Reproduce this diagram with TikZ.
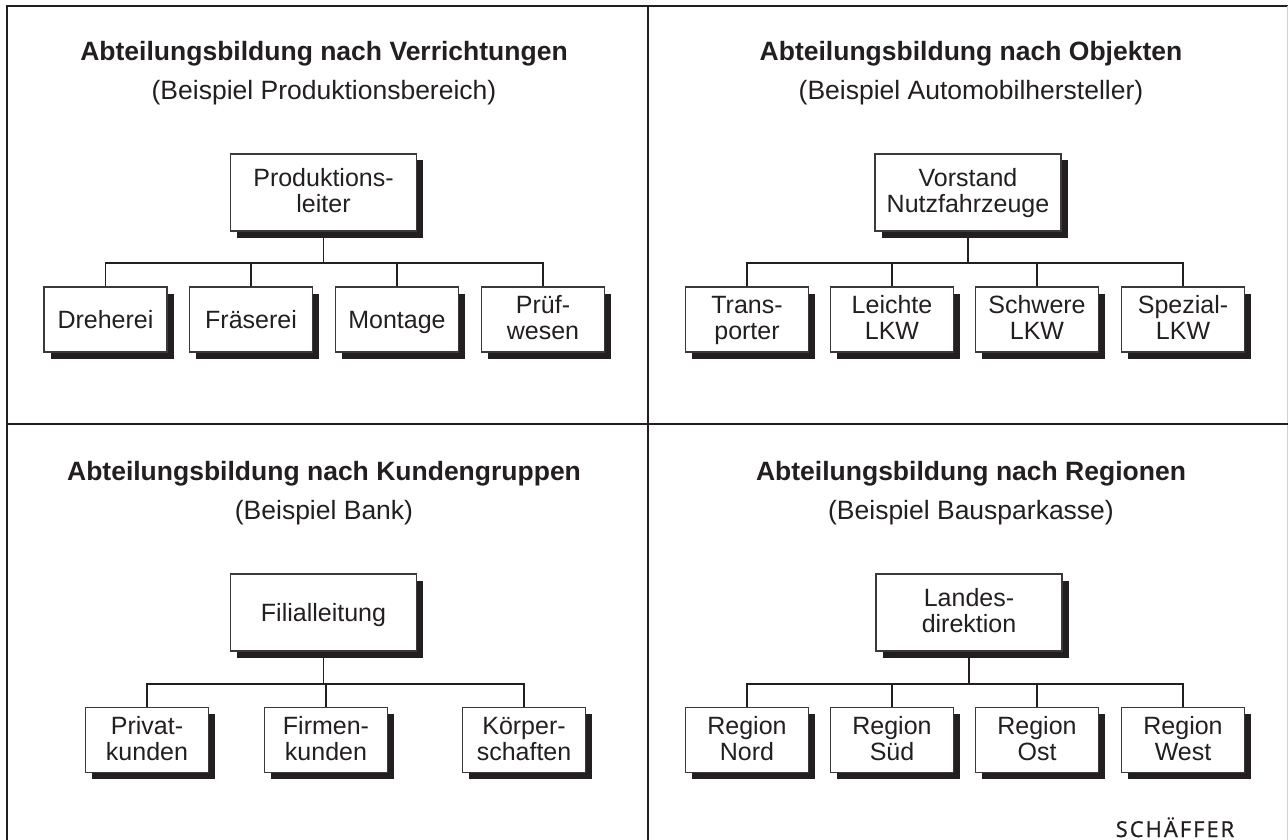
\documentclass[tikz,border=0pt]{standalone}
\usepackage{fontspec}
\setmainfont{Liberation Sans}
\newfontfamily\logofont[LetterSpace=9,FakeBold=0.8]{Open Sans}
\usetikzlibrary{shadows}

\definecolor{ink}{HTML}{231F20}
\definecolor{rim}{HTML}{3A3A3A}

% line strut for the two-line box labels
\newcommand{\ls}{\rule[-6pt]{0pt}{26pt}}

\begin{document}
\begin{tikzpicture}[x=1pt,y=-1pt,
  frame/.style={draw=ink, line width=2pt},
  wire/.style={draw=ink, line width=1.2pt},
  title/.style={font=\fontsize{26.5}{30}\selectfont\bfseries, text=ink, inner sep=0pt, anchor=base},
  subtitle/.style={font=\fontsize{26.5}{30}\selectfont, text=ink, inner sep=0pt, anchor=base},
  unit/.style={draw=rim, line width=1.2pt, fill=white, text=ink, align=center,
    font=\fontsize{25}{26}\selectfont, inner sep=0pt,
    minimum width=123pt, minimum height=65pt,
    drop shadow={shadow xshift=6.5pt, shadow yshift=-6.5pt, opacity=1, fill=ink}},
  head/.style={unit, minimum width=186pt, minimum height=77pt},
  oneline/.style={text height=22pt, text depth=4pt}
]
\useasboundingbox (0,0) rectangle (1288,840);

% panel frame
\draw[frame] (7,840) -- (7,6) -- (1288,6);
\draw[draw=gray!35, line width=1pt] (1287.5,6) -- (1287.5,840);
\draw[frame] (648,6) -- (648,840);
\draw[frame] (7,424) -- (1288,424);

% ---- Verrichtungen ----
\node[title] (t1) at (324,61) {Abteilungsbildung nach Verrichtungen};
\node[subtitle] (s1) at (324,100) {(Beispiel Produktionsbereich)};
\node[head] (r1) at (323.5,192.5) {\ls Produktions-\\\ls leiter};
\node[unit, oneline] (a1) at (105.5,319.5) {Dreherei};
\node[unit, oneline] (a2) at (251,319.5) {Fräserei};
\node[unit, oneline] (a3) at (397,319.5) {Montage};
\node[unit] (a4) at (543,319.5) {\ls Prüf-\\\ls wesen};
\coordinate (b1) at (324,263);
\draw[wire] (r1.south) -- (r1.south |- b1);
\draw[wire] (a1.north) -- (a1.north |- b1) -| (a4.north);
\draw[wire] (a2.north) -- (a2.north |- b1);
\draw[wire] (a3.north) -- (a3.north |- b1);

% ---- Objekte ----
\node[title] (t2) at (971,61) {Abteilungsbildung nach Objekten};
\node[subtitle] (s2) at (971,100) {(Beispiel Automobilhersteller)};
\node[head] (r2) at (968,192.5) {\ls Vorstand\\\ls Nutzfahrzeuge};
\node[unit] (o1) at (747,319.5) {\ls Trans-\\\ls porter};
\node[unit] (o2) at (892,319.5) {\ls Leichte\\\ls LKW};
\node[unit] (o3) at (1037,319.5) {\ls Schwere\\\ls LKW};
\node[unit] (o4) at (1183,319.5) {\ls Spezial-\\\ls LKW};
\coordinate (b2) at (968,263);
\draw[wire] (r2.south) -- (r2.south |- b2);
\draw[wire] (o1.north) -- (o1.north |- b2) -| (o4.north);
\draw[wire] (o2.north) -- (o2.north |- b2);
\draw[wire] (o3.north) -- (o3.north |- b2);

% ---- Kundengruppen ----
\node[title] (t3) at (324,480) {Abteilungsbildung nach Kundengruppen};
\node[subtitle] (s3) at (324,519) {(Beispiel Bank)};
\node[head, oneline] (r3) at (323.5,612.5) {Filialleitung};
\node[unit] (k1) at (147,740) {\ls Privat-\\\ls kunden};
\node[unit] (k2) at (326,740) {\ls Firmen-\\\ls kunden};
\node[unit] (k3) at (524,740) {\ls Körper-\\\ls schaften};
\coordinate (b3) at (324,684);
\draw[wire] (r3.south) -- (r3.south |- b3);
\draw[wire] (k1.north) -- (k1.north |- b3) -| (k3.north);
\draw[wire] (k2.north) -- (k2.north |- b3);

% ---- Regionen ----
\node[title] (t4) at (971,480) {Abteilungsbildung nach Regionen};
\node[subtitle] (s4) at (971,519) {(Beispiel Bausparkasse)};
\node[head] (r4) at (969,612.5) {\ls Landes-\\\ls direktion};
\node[unit] (g1) at (747,740) {\ls Region\\\ls Nord};
\node[unit] (g2) at (892,740) {\ls Region\\\ls Süd};
\node[unit] (g3) at (1037,740) {\ls Region\\\ls Ost};
\node[unit] (g4) at (1183,740) {\ls Region\\\ls West};
\coordinate (b4) at (969,684);
\draw[wire] (r4.south) -- (r4.south |- b4);
\draw[wire] (g1.north) -- (g1.north |- b4) -| (g4.north);
\draw[wire] (g2.north) -- (g2.north |- b4);
\draw[wire] (g3.north) -- (g3.north |- b4);

% publisher mark
\node[font=\logofont\fontsize{22}{24}\selectfont, text=ink, inner sep=0pt, anchor=base] (logo) at (1175,837) {SCHÄFFER};
\end{tikzpicture}
\end{document}
